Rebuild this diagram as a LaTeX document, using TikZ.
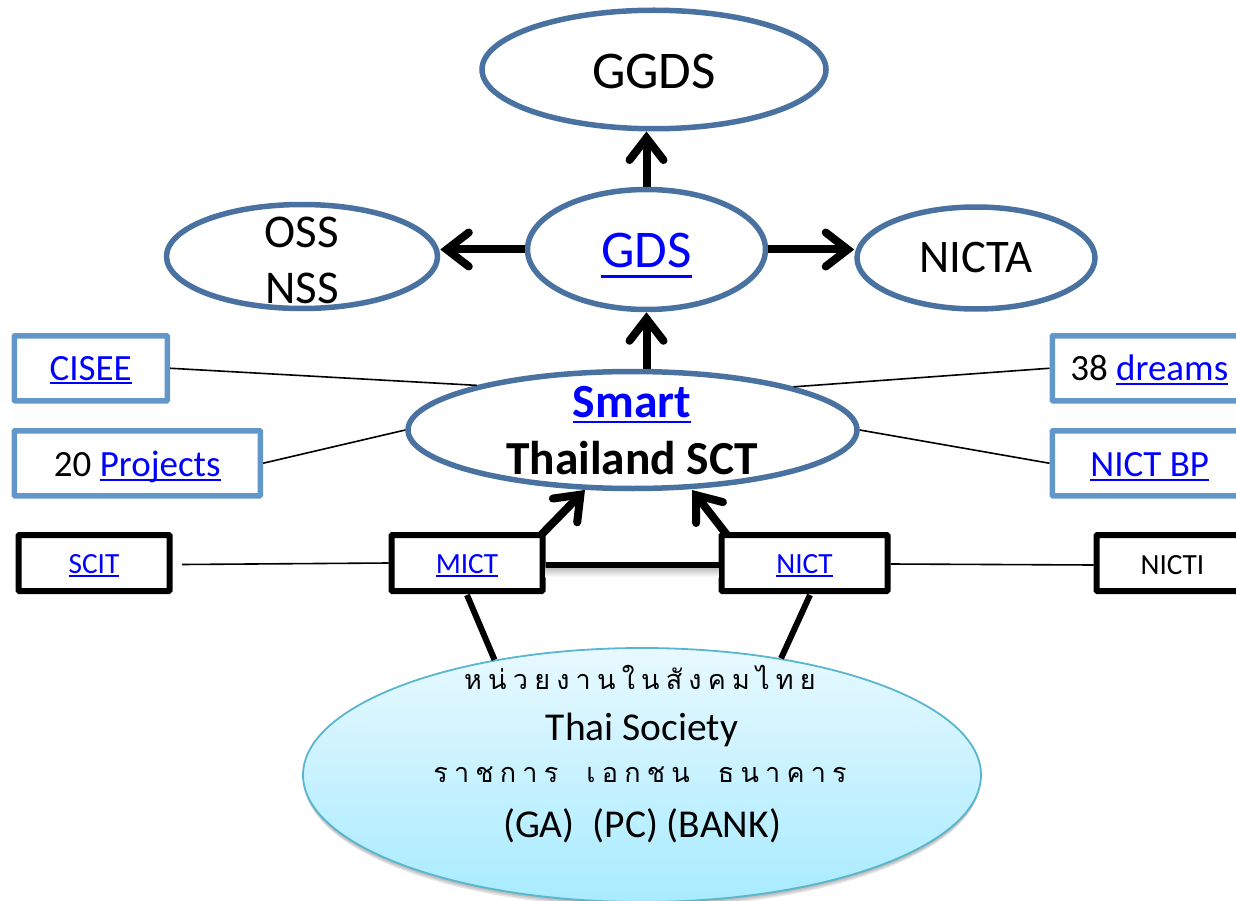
\documentclass[tikz,border=0pt]{standalone}
\usepackage{fontspec}
\setmainfont{Carlito}
\newfontfamily\thaifont[Script=Thai,LetterSpace=23]{Loma}
\usetikzlibrary{arrows.meta,shapes.geometric,calc}
\definecolor{elblue}{HTML}{4A72A0}
\definecolor{boxblue}{HTML}{6297C9}
\definecolor{linkblue}{HTML}{0000FF}
\definecolor{socedge}{HTML}{58B6CE}
\definecolor{soctop}{HTML}{E8F9FF}
\definecolor{socbot}{HTML}{A8EBFF}
\newsavebox\lbox
\newcommand\lnk[2][0.12]{\sbox\lbox{\color{linkblue}#2}{\color{linkblue}\rlap{\usebox\lbox}\rule[-#1em]{\wd\lbox}{0.055em}}}
\newcommand\lowered[2]{\raisebox{-#1pt}[\height][\depth]{#2}}
\tikzset{
  ell/.style={ellipse,draw=elblue,line width=5.5pt,fill=white,inner sep=0pt,align=center,text=black},
  bluebox/.style={rectangle,draw=boxblue,line width=5.5pt,fill=white,inner sep=0pt,anchor=north west,font=\fontsize{37}{40}\selectfont,rounded corners=0.8pt},
  blackbox/.style={rectangle,draw=black,line width=6pt,fill=white,inner sep=0pt,anchor=north west,font=\fontsize{29.3}{32}\selectfont,rounded corners=0.8pt},
  thin link/.style={draw=black,line width=1.6pt},
  heavy/.style={draw=black,line width=6pt},
  arrowline/.style={draw=black,line width=8pt,-{Straight Barb[length=22pt,width=34pt,line cap=round,line width=8pt]}},
  thaitext/.style={inner sep=0pt,font=\fontsize{27}{30}\thaifont\selectfont},
  soctext/.style={inner sep=0pt,font=\fontsize{39.5}{42}\selectfont},
  shadowlayer/.style={ellipse,fill=black,opacity=.09,minimum width=678pt,minimum height=254pt,inner sep=0pt},
}
\begin{document}
\begin{tikzpicture}[x=1pt,y=-1pt]
\useasboundingbox (0,0) rectangle (1236,901);
% ellipses
\node[ell,minimum width=344pt,minimum height=118.5pt,font=\fontsize{53}{56}\selectfont] (ggds) at (654,69.5) {\lowered{2}{GGDS}};
\node[ell,minimum width=238pt,minimum height=120pt,font=\fontsize{53}{56}\selectfont] (gds) at (646.5,249.5) {\lowered{6}{\lnk[0.19]{GDS}}};
\node[ell,minimum width=271pt,minimum height=104pt] (oss) at (302,256.5) {};
\node[inner sep=0pt,font=\fontsize{47}{50}\selectfont] (osst) at (302,232) {OSS};
\node[inner sep=0pt,font=\fontsize{47}{50}\selectfont] (nsst) at (302,288) {NSS};
\node[ell,minimum width=238pt,minimum height=102pt,font=\fontsize{46.7}{50}\selectfont] (nicta) at (976,258) {NICTA};
\node[ell,minimum width=449pt,minimum height=117pt] (smart) at (632.5,430) {};
\node[inner sep=0pt,font=\fontsize{47.6}{50}\bfseries\selectfont] (smartt) at (632,405) {\lnk{Smart}};
\node[inner sep=0pt,font=\fontsize{47.4}{50}\bfseries\selectfont] (thait) at (632,458) {Thailand SCT};
% boxes
\node[bluebox,minimum width=153pt,minimum height=65pt] (cisee) at (11.5,333) {\lowered{2}{\lnk{CISEE}}};
\node[bluebox,minimum width=246pt,minimum height=65pt] (proj) at (11.5,428) {\lowered{3.5}{20 \lnk{Projects}}};
\node[bluebox,minimum width=190pt,minimum height=65pt] (dreams) at (1049.5,333) {\hspace*{4pt}\lowered{2}{38 \lnk{dreams}}};
\node[bluebox,minimum width=190pt,minimum height=65pt] (bp) at (1049.5,428) {\hspace*{5pt}\lowered{3.5}{\lnk{NICT BP}}};
\node[blackbox,minimum width=151pt,minimum height=56pt] (scit) at (15.5,532) {\lowered{2.5}{\lnk{SCIT}}};
\node[blackbox,minimum width=151pt,minimum height=56pt] (mict) at (388.5,532) {\lowered{2.5}{\lnk{MICT}}};
\node[blackbox,minimum width=166pt,minimum height=56pt] (nict) at (718.5,532) {\lowered{2.5}{\lnk{NICT}}};
\node[blackbox,minimum width=146pt,minimum height=56pt] (nicti) at (1093.5,532) {\hspace*{6pt}\lowered{2}{NICTI}};
% free ends
\coordinate (scitend) at (182,564.5);
\coordinate (mictlow) at (467,595);
\coordinate (nictlow) at (810,595);
\coordinate (mictup) at (541,535);
\coordinate (nictup) at (727,535);
\coordinate (smartl) at (585,490);
\coordinate (smartr) at (692,490);
% arrows
\draw[arrowline] (gds.north) -- (gds.north |- ggds.south);
\draw[arrowline] (gds.west) -- (gds.west -| oss.east);
\draw[arrowline] (gds.east) -- (gds.east -| nicta.west);
\draw[arrowline] (gds.south |- smart.north) -- (gds.south);
\draw[arrowline] (mictup) -- (smartl);
\draw[arrowline] (nictup) -- (smartr);
% thin links
\draw[thin link] (cisee.east) -- (smart.164.5);
\draw[thin link] (proj.east) -- (smart.west);
\draw[thin link] (dreams.west) -- (smart.15.5);
\draw[thin link] (bp.west) -- (smart.east);
\draw[thin link] (scitend) -- (mict.west);
\draw[thin link] ($(nict.east)+(0,1)$) -- ($(nicti.west)+(0,2)$);
\shade[top color=black!28,bottom color=white] ($(mict.east)+(0,4)$) rectangle ($(nict.west)+(0,14)$);
\draw[heavy,line width=5.5pt] ($(mict.east)+(0,2)$) -- ($(nict.west)+(0,2)$);
% society
\foreach \dy/\gw in {1/0,2.5/0,4/-1,5.5/-2}{
  \node[shadowlayer,minimum width=678pt+\gw pt] at (642,775+\dy) {};
}
\node[ellipse,draw=socedge,line width=1.8pt,top color=soctop,bottom color=socbot,minimum width=678pt,minimum height=254pt,inner sep=0pt] (soc) at (642,775) {};
\draw[heavy] (mictlow) -- (soc.142);
\draw[heavy] (nictlow) -- (soc.40);
\node[thaitext] (t1) at (640,677) {หน่วยงานในสังคมไทย};
\node[soctext] (t2) at (642,730) {Thai Society};
\node[thaitext] (t3) at (640,775) {ราชการ\hspace{28pt}เอกชน\hspace{28pt}ธนาคาร};
\node[soctext] (t4) at (642,826) {(GA)\ \ (PC) (BANK)};
\end{tikzpicture}
\end{document}
